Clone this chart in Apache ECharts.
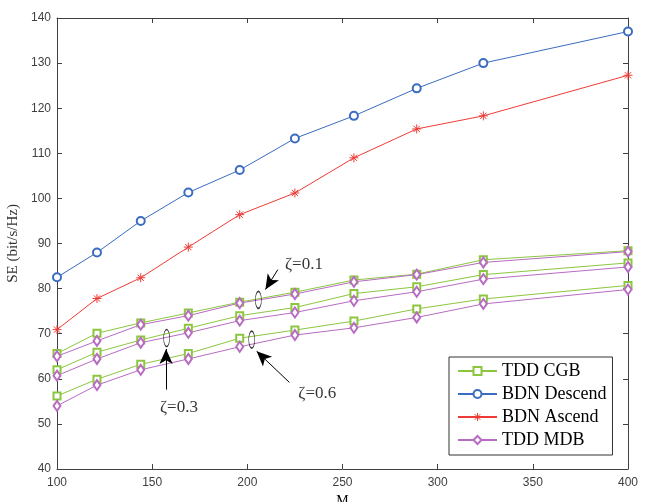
<!DOCTYPE html>
<html>
<head>
<meta charset="utf-8">
<script src="https://cdn.jsdelivr.net/npm/echarts@6/dist/echarts.min.js"></script>
<style>
  html, body { margin: 0; padding: 0; background: #fff; }
  #chart { width: 651px; height: 502px; }
</style>
</head>
<body>
<div id="chart"></div>
<script>
// M values (x axis)
const mVals = [100, 121, 144, 169, 196, 225, 256, 289, 324, 400];

const bdnDescend = [82.5, 88.0, 95.0, 101.3, 106.3, 113.3, 118.3, 124.4, 130.0, 137.0];
const bdnAscend = [70.9, 77.8, 82.4, 89.2, 96.4, 101.2, 109.0, 115.4, 118.3, 127.3];

// zeta = 0.1 / 0.3 / 0.6
const cgb01 = [65.6, 70.1, 72.4, 74.6, 77.0, 79.2, 81.9, 83.2, 86.4, 88.4];
const mdb01 = [65.0, 68.4, 72.0, 74.0, 76.8, 78.8, 81.5, 83.1, 85.8, 88.2];
const cgb03 = [62.0, 65.9, 68.6, 71.2, 74.0, 75.8, 78.9, 80.4, 83.1, 85.7];
const mdb03 = [60.7, 64.4, 68.0, 70.2, 72.9, 74.7, 77.3, 79.3, 82.1, 84.8];
const cgb06 = [56.2, 59.9, 63.2, 65.6, 69.0, 70.8, 72.8, 75.5, 77.7, 80.7];
const mdb06 = [54.0, 58.6, 62.0, 64.4, 67.1, 69.7, 71.3, 73.6, 76.6, 79.8];

const legendNames = ['TDD CGB', 'BDN Descend', 'BDN Ascend', 'TDD MDB'];

// annotations (data coords)
const ellipses = [[205.8, 77.5], [157.6, 69.05], [202.3, 68.7]];
const arrows = [
  [[216.0, 84.2], [209.5, 79.8]],
  [[157.3, 57.6], [157.3, 66.6]],
  [[222.1, 59.2], [204.9, 66.1]],
];
const zetaLabels = [
  { text: 'ζ=0.1', pos: [219.8, 85.3], align: 'left' },
  { text: 'ζ=0.3', pos: [164.1, 53.6], align: 'center' },
  { text: 'ζ=0.6', pos: [226.8, 56.7], align: 'left' },
];

const GREEN = '#8cc63f';
const BLUE = '#3a6cbf';
const RED = '#ee3b36';
const PURPLE = '#b86bc3';
const AXIS = '#404040';
const SERIF = 'Liberation Serif';
const SANS = 'Liberation Sans';

const starPath = 'path://M0,-5L0,5M-5,0L5,0M-3.5,-3.5L3.5,3.5M-3.5,3.5L3.5,-3.5';

function pairs(ys) {
  return ys.map((y, i) => [mVals[i], y]);
}

function lineSeries(name, ys, color, symbol, size) {
  return {
    name,
    type: 'line',
    data: pairs(ys),
    symbol,
    symbolSize: size,
    showAllSymbol: true,
    lineStyle: { color, width: 1 },
    itemStyle: { color, borderColor: color, borderWidth: 1 },
    emphasis: { disabled: true },
    z: 3,
  };
}

const series = [
  lineSeries('BDN Descend', bdnDescend, BLUE, 'emptyCircle', 8),
  lineSeries('BDN Ascend', bdnAscend, RED, starPath, 9),
  lineSeries('TDD CGB', cgb01, GREEN, 'emptyRect', 7),
  lineSeries('TDD CGB', cgb03, GREEN, 'emptyRect', 7),
  lineSeries('TDD CGB', cgb06, GREEN, 'emptyRect', 7),
  lineSeries('TDD MDB', mdb01, PURPLE, 'emptyDiamond', [7, 10]),
  lineSeries('TDD MDB', mdb03, PURPLE, 'emptyDiamond', [7, 10]),
  lineSeries('TDD MDB', mdb06, PURPLE, 'emptyDiamond', [7, 10]),
  {
    name: 'annot',
    type: 'scatter',
    data: ellipses,
    symbol: 'circle',
    symbolSize: [6, 17],
    itemStyle: { color: 'rgba(0,0,0,0)', borderColor: '#000', borderWidth: 1 },
    emphasis: { disabled: true },
    silent: true,
    z: 5,
    markLine: {
      silent: true,
      symbol: ['none', 'arrow'],
      symbolSize: [10, 15],
      label: { show: false },
      lineStyle: { color: '#000', width: 1, type: 'solid' },
      data: arrows.map((a) => [{ coord: a[0] }, { coord: a[1] }]),
    },
  },
  {
    name: 'annotText',
    type: 'scatter',
    symbolSize: 0,
    silent: true,
    data: zetaLabels.map((l) => ({
      value: l.pos,
      label: {
        show: true,
        formatter: l.text,
        position: 'inside',
        align: l.align,
        verticalAlign: 'middle',
        color: '#000',
        fontFamily: SERIF,
        fontSize: 17,
      },
    })),
  },
];

const tick = { show: true, inside: true, length: 5, lineStyle: { color: AXIS } };
const line = { show: true, onZero: false, lineStyle: { color: AXIS, width: 1 } };

const option = {
  animation: false,
  backgroundColor: '#fff',
  grid: { left: 57, right: 23, top: 18, bottom: 33, containLabel: false, outerBoundsMode: 'none' },
  legend: {
    data: legendNames,
    orient: 'vertical',
    left: 449,
    top: 357,
    padding: [5, 6, 6, 8],
    itemWidth: 39,
    itemHeight: 10,
    itemGap: 5,
    backgroundColor: '#fff',
    borderColor: '#333',
    borderWidth: 1,
    borderRadius: 0,
    selectedMode: false,
    itemStyle: { borderWidth: 1 },
    textStyle: { fontFamily: SERIF, fontSize: 18, lineHeight: 18, color: '#000' },
  },
  xAxis: [
    {
      type: 'value', min: 100, max: 400, interval: 50,
      name: 'M', nameLocation: 'middle', nameGap: 24,
      nameTextStyle: { fontFamily: SERIF, fontSize: 14, color: '#000' },
      axisLine: line, axisTick: tick,
      axisLabel: { color: AXIS, fontFamily: SANS, fontSize: 12, margin: 8 },
      splitLine: { show: false },
    },
    {
      type: 'value', position: 'top', min: 100, max: 400, interval: 50,
      axisLine: line, axisTick: tick, axisLabel: { show: false },
      splitLine: { show: false },
    },
  ],
  yAxis: [
    {
      type: 'value', min: 40, max: 140, interval: 10,
      name: 'SE (bit/s/Hz)', nameLocation: 'middle', nameGap: 28, nameRotate: 90,
      nameTextStyle: { fontFamily: SERIF, fontSize: 15, color: '#333' },
      axisLine: line, axisTick: tick,
      axisLabel: { color: AXIS, fontFamily: SANS, fontSize: 12, margin: 6 },
      splitLine: { show: false },
    },
    {
      type: 'value', position: 'right', min: 40, max: 140, interval: 10,
      axisLine: line, axisTick: tick, axisLabel: { show: false },
      splitLine: { show: false },
    },
  ],
  series,
};

const myChart = echarts.init(document.getElementById('chart'));
myChart.setOption(option);
</script>
</body>
</html>
